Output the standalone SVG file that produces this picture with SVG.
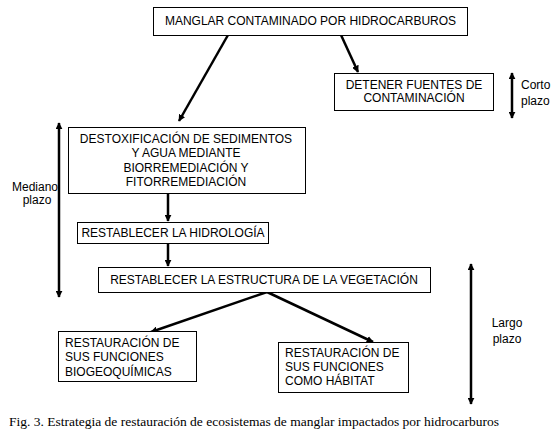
<svg xmlns="http://www.w3.org/2000/svg" width="555" height="435" viewBox="0 0 555 435">
<style>
.box{fill:#fff;stroke:#000;stroke-width:1}
.t{font-family:"Liberation Sans",Arial,sans-serif;font-size:12px;fill:#000}
.c{text-anchor:middle}
.cap{font-family:"Liberation Serif","Times New Roman",serif;font-size:13.5px;fill:#000}
.ar{stroke:#000;stroke-width:2.5;fill:none;marker-end:url(#ah)}
.dbl{stroke:#000;stroke-width:2.5;fill:none;marker-start:url(#ah);marker-end:url(#ah)}
</style>
<defs>
<marker id="ah" viewBox="0 0 10 10" refX="9" refY="5" markerWidth="7" markerHeight="7" markerUnits="userSpaceOnUse" orient="auto-start-reverse">
<path d="M0,0 L10,5 L0,10 z" fill="#000"/>
</marker>
</defs>
<rect width="555" height="435" fill="#fff"/>
<g id="connectors">
<line class="ar" x1="228" y1="35" x2="179" y2="121"/>
<line class="ar" x1="341" y1="35" x2="358" y2="72"/>
<line class="ar" x1="168" y1="193" x2="168" y2="221"/>
<line class="ar" x1="168" y1="243" x2="168" y2="266"/>
<line class="ar" x1="267" y1="292" x2="151" y2="332"/>
<line class="ar" x1="267" y1="292" x2="373" y2="342"/>
</g>
<g id="timescales">
<line class="dbl" x1="512" y1="73" x2="512" y2="118"/>
<text class="t" x="521" y="89">Corto</text>
<text class="t" x="521" y="105">plazo</text>
<line class="dbl" x1="59" y1="123" x2="59" y2="297"/>
<text class="t c" x="35" y="191">Mediano</text>
<text class="t c" x="37" y="204">plazo</text>
<line class="dbl" x1="471" y1="264" x2="471" y2="404"/>
<text class="t c" x="507" y="327">Largo</text>
<text class="t c" x="507" y="343">plazo</text>
</g>
<g id="n-manglar">
<rect class="box" x="153.5" y="7.5" width="314" height="28"/>
<text class="t c" x="310.5" y="25">MANGLAR CONTAMINADO POR HIDROCARBUROS</text>
</g>
<g id="n-detener">
<rect class="box" x="334.5" y="73.5" width="159" height="37"/>
<text class="t c" x="414" y="89">DETENER FUENTES DE</text>
<text class="t c" x="414" y="102">CONTAMINACIÓN</text>
</g>
<g id="n-destox">
<rect class="box" x="68.5" y="127.5" width="237" height="66"/>
<text class="t c" x="186" y="143">DESTOXIFICACIÓN DE SEDIMENTOS</text>
<text class="t c" x="186" y="157">Y AGUA MEDIANTE</text>
<text class="t c" x="186" y="171.5">BIORREMEDIACIÓN Y</text>
<text class="t c" x="186" y="186">FITORREMEDIACIÓN</text>
</g>
<g id="n-hidro">
<rect class="box" x="77.5" y="222.5" width="191" height="21"/>
<text class="t c" x="173" y="237">RESTABLECER LA HIDROLOGÍA</text>
</g>
<g id="n-veg">
<rect class="box" x="98.5" y="267.5" width="332" height="25"/>
<text class="t c" x="264" y="284">RESTABLECER LA ESTRUCTURA DE LA VEGETACIÓN</text>
</g>
<g id="n-bio">
<rect class="box" x="58.5" y="331.5" width="138" height="50"/>
<text class="t" x="65" y="347">RESTAURACIÓN DE</text>
<text class="t" x="65" y="361">SUS FUNCIONES</text>
<text class="t" x="65" y="376">BIOGEOQUÍMICAS</text>
</g>
<g id="n-hab">
<rect class="box" x="278.5" y="342.5" width="130" height="50"/>
<text class="t" x="285" y="357">RESTAURACIÓN DE</text>
<text class="t" x="285" y="371">SUS FUNCIONES</text>
<text class="t" x="285" y="385">COMO HÁBITAT</text>
</g>
<text class="cap" x="9" y="426">Fig. 3. Estrategia de restauración de ecosistemas de manglar impactados por hidrocarburos</text>
</svg>
